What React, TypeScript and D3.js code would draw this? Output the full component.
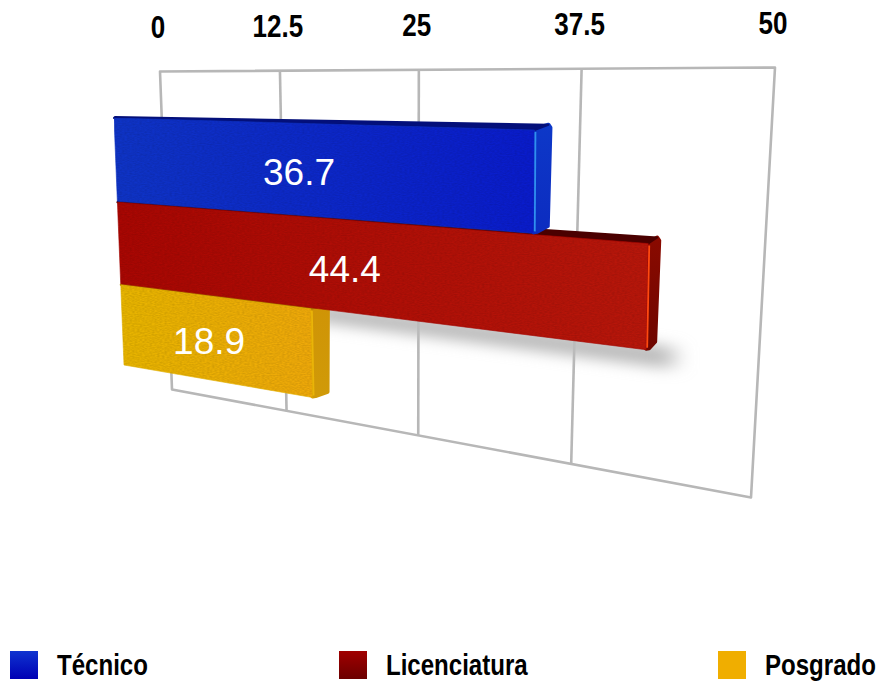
import React from "react";
import * as d3 from "d3";

const categories = ["Técnico", "Licenciatura", "Posgrado"];
const values = [36.7, 44.4, 18.9];
const ticks = [0, 12.5, 25, 37.5, 50];
const tickLabels = ["0", "12.5", "25", "37.5", "50"];
const faceColors = [
  ["#0f34c6", "#0a1ccc"],
  ["#a90703", "#b8170b"],
  ["#e8b500", "#efa90a"],
];
const sideColors = [
  ["#0d38c8", "#0c2cc0"],
  ["#8a0a00", "#6e0600"],
  ["#cf9406", "#d09a08"],
];
const capColors = ["#04107a", "#4a0000", "#a87a02"];
const edgeColors = ["#2f8ff0", "#ff4a10", "#eab408"];
const legendGradients = [
  ["#0f34d0", "#0000b4"],
  ["#a00000", "#6c0000"],
  ["#f0ae00", "#f0ae00"],
];

type Pt = [number, number];

// Projective map of the unit square onto a quadrilateral (tl, tr, br, bl).
function quadProjection([p0, p1, p2, p3]: Pt[]) {
  const dx1 = p1[0] - p2[0], dx2 = p3[0] - p2[0], sx = p0[0] - p1[0] + p2[0] - p3[0];
  const dy1 = p1[1] - p2[1], dy2 = p3[1] - p2[1], sy = p0[1] - p1[1] + p2[1] - p3[1];
  const den = dx1 * dy2 - dx2 * dy1;
  const g = (sx * dy2 - dx2 * sy) / den;
  const h = (dx1 * sy - sx * dy1) / den;
  const a = p1[0] - p0[0] + g * p1[0], b = p3[0] - p0[0] + h * p3[0];
  const d = p1[1] - p0[1] + g * p1[1], e = p3[1] - p0[1] + h * p3[1];
  return (u: number, v: number): Pt => {
    const w = g * u + h * v + 1;
    return [(a * u + b * v + p0[0]) / w, (d * u + e * v + p0[1]) / w];
  };
}

const W = 881, H = 684;
const u = d3.scaleLinear().domain([0, 50]).range([0, 1]);
const row = d3.scaleBand<string>().domain(categories).range([0, 1]).paddingInner(0.012);

const gridPlane = quadProjection([[160, 71.5], [775, 67.5], [751, 497.5], [172, 389.5]]);
const barPlane = quadProjection([[114, 118], [743, 136], [733, 470], [124, 365]]);

// The end face narrows as a bar reaches further right on the perspective plane.
const sideWidth = d3.scaleLinear().domain([0, 36.7, 44.4]).range([20, 18, 13]);
const capRise = d3.scaleLinear().domain([0, 50]).range([2, 6.5]);

const line = d3.line<Pt>().curve(d3.curveLinearClosed);
const open = d3.line<Pt>();

export default function App() {
  return (
    <svg width={W} height={H} style={{ position: "absolute", left: 0, top: 0, display: "block" }}
      fontFamily="'Liberation Sans', Arial, sans-serif">
      <defs>
        <filter id="soft" x="-20%" y="-100%" width="140%" height="300%">
          <feGaussianBlur stdDeviation="11 7" />
        </filter>
        <filter id="brushed" x="0" y="0" width="100%" height="100%" colorInterpolationFilters="sRGB">
          <feTurbulence type="fractalNoise" baseFrequency="0.4 0.9" numOctaves="1" seed="4" result="n" />
          <feColorMatrix in="n" type="matrix" values="0 0 0 0 0  0 0 0 0 0  0 0 0 0 0  0 0 0 0.2 -0.06" result="g" />
          <feComposite in="g" in2="SourceAlpha" operator="in" result="c" />
          <feMerge>
            <feMergeNode in="SourceGraphic" />
            <feMergeNode in="c" />
          </feMerge>
        </filter>
        {faceColors.map((c, i) => (
          <linearGradient key={i} id={`face${i}`} x1="0" x2="1" y1="0" y2="0">
            <stop offset="0" stopColor={c[0]} />
            <stop offset="1" stopColor={c[1]} />
          </linearGradient>
        ))}
        {sideColors.map((c, i) => (
          <linearGradient key={i} id={`side${i}`} x1="0" x2="0" y1="0" y2="1">
            <stop offset="0" stopColor={c[0]} />
            <stop offset="1" stopColor={c[1]} />
          </linearGradient>
        ))}
        {legendGradients.map((c, i) => (
          <linearGradient key={i} id={`swatch${i}`} x1="0" x2="0" y1="0" y2="1">
            <stop offset="0" stopColor={c[0]} />
            <stop offset="1" stopColor={c[1]} />
          </linearGradient>
        ))}
      </defs>

      {/* Back wall: outline and value gridlines */}
      <g fill="none" stroke="#b7b7b7" strokeWidth={2.6}>
        <path d={line([gridPlane(0, 0), gridPlane(1, 0), gridPlane(1, 1), gridPlane(0, 1)])!} strokeLinejoin="round" />
        {ticks.slice(1, -1).map((t) => (
          <path key={t} d={open([gridPlane(u(t), 0), gridPlane(u(t), 1)])!} />
        ))}
      </g>

      {/* Axis labels above the wall */}
      {ticks.map((t, i) => {
        const [x, y] = gridPlane(u(t), 0);
        return (
          <text key={t} transform={`translate(${x - 2},${y - 34}) scale(0.84,1)`} textAnchor="middle"
            fontSize={31} fontWeight={700} fill="#000">{tickLabels[i]}</text>
        );
      })}

      {/* Cast shadow falling from the middle bar onto the wall */}
      {(() => {
        const b = row.bandwidth();
        const y1 = row(categories[1])! + b;
        return (
          <path filter="url(#soft)" fill="#bcbcbc"
            d={line([
              barPlane(u(18.9), y1 - 0.02),
              barPlane(u(values[1]) + 0.035, y1 - 0.02),
              barPlane(u(values[1]) + 0.035, y1 + 0.05),
              barPlane(u(18.9), y1 + 0.05),
            ])!} />
        );
      })()}

      {/* Bars, lowest first so each upper bar sits on the one below */}
      {categories.map((c, i) => i).reverse().map((i) => {
        const v = values[i];
        const y0 = row(categories[i])!;
        const y1 = y0 + row.bandwidth();
        const tl = barPlane(0, y0), tr = barPlane(u(v), y0);
        const br = barPlane(u(v), y1), bl = barPlane(0, y1);
        const sw = sideWidth(v), rise = capRise(v);
        const backTop: Pt = [tr[0] + sw - 4, tr[1] - rise];
        const sideTop: Pt = [tr[0] + sw - 2, tr[1] - rise + 3];
        const sideBottom: Pt = [br[0] + sw - 4, br[1] - rise - 2];
        const [lx, ly] = barPlane(u(v / 2), (y0 + y1) / 2);
        return (
          <g key={i}>
            <path d={line([[tr[0], tr[1] - 1], backTop, sideTop, sideBottom, [br[0] + 3, br[1] - 1.5], [br[0], br[1] - 1]])!}
              fill={`url(#side${i})`} stroke={`url(#side${i})`} strokeWidth={4} strokeLinejoin="round" />
            <path d={line([tl, tr, backTop, [tl[0] + 1, tl[1] - 1]])!} fill={capColors[i]}
              stroke={capColors[i]} strokeWidth={2} strokeLinejoin="round" />
            <path d={line([tl, tr, br, bl])!} fill={`url(#face${i})`} filter="url(#brushed)"
              stroke={faceColors[i][0]} strokeWidth={0.6} strokeLinejoin="round" />
            <path d={open([[tr[0] + 1, tr[1] + 2], [br[0] + 1, br[1] - 2]])!} stroke={edgeColors[i]}
              strokeWidth={1.8} fill="none" />
            <text x={lx - 3} y={ly} dy="0.42em" textAnchor="middle" fontSize={37} fill="#fff">{v}</text>
          </g>
        );
      })}

      {/* Legend */}
      {categories.map((c, i) => {
        const swatchX = [10, 339, 718][i];
        const labelX = [57, 386, 765][i];
        return (
          <g key={c}>
            <rect x={swatchX} y={651} width={28} height={28} fill={`url(#swatch${i})`} />
            <text transform={`translate(${labelX},675) scale(0.83,1)`} fontSize={29} fontWeight={700} fill="#000">{c}</text>
          </g>
        );
      })}
    </svg>
  );
}
